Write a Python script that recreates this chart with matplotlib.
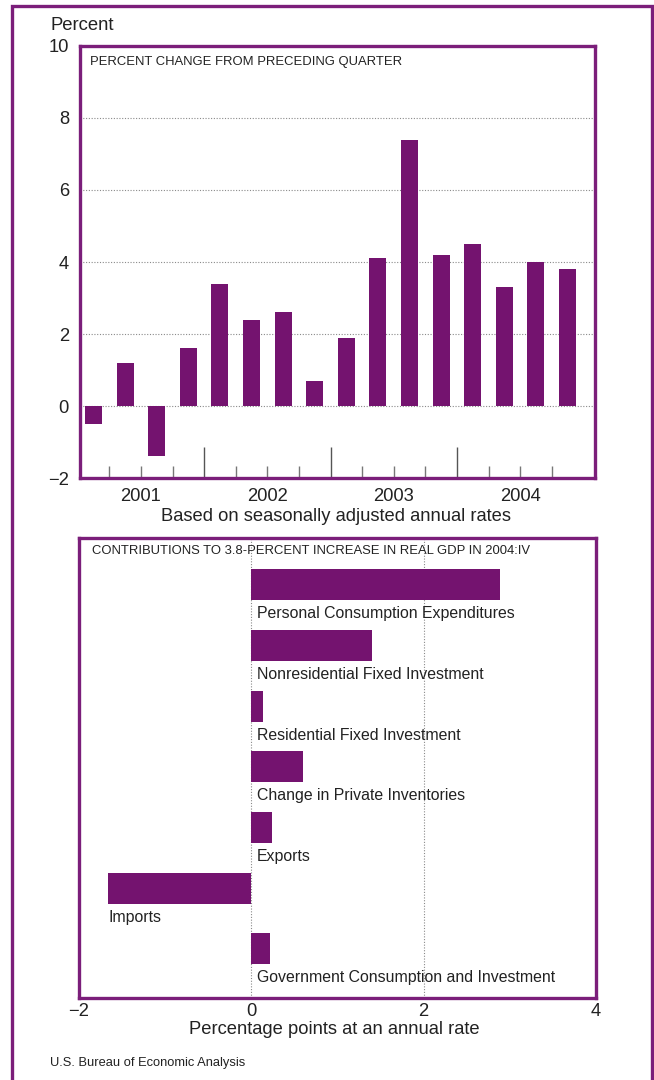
import matplotlib
matplotlib.use("Agg")
import matplotlib.pyplot as plt
from matplotlib import font_manager as fm
from matplotlib.lines import Line2D

# ---------------- data ----------------
quarters = list(range(16))  # 2001:I .. 2004:IV
gdp_change = [-0.5, 1.2, -1.4, 1.6,
              3.4, 2.4, 2.6, 0.7,
              1.9, 4.1, 7.4, 4.2,
              4.5, 3.3, 4.0, 3.8]
years = ["2001", "2002", "2003", "2004"]
top_yticks = [-2, 0, 2, 4, 6, 8, 10]

components = ["Personal Consumption Expenditures",
              "Nonresidential Fixed Investment",
              "Residential Fixed Investment",
              "Change in Private Inventories",
              "Exports",
              "Imports",
              "Government Consumption and Investment"]
contributions = [2.89, 1.40, 0.13, 0.60, 0.24, -1.66, 0.22]
bottom_xticks = [-2, 0, 2, 4]

# ---------------- style ----------------
W, H = 654, 1080
BAR = "#74136F"
FRAME = "#7B1E7A"
TXT = "#222222"
GRID = "#8a8a8a"

names = {f.name for f in fm.fontManager.ttflist}
MAIN = "Liberation Sans" if "Liberation Sans" in names else "DejaVu Sans"
NARROW = "Liberation Sans Narrow" if "Liberation Sans Narrow" in names else MAIN
plt.rcParams["font.family"] = [MAIN, "DejaVu Sans"]

fig = plt.figure(figsize=(W / 100, H / 100), dpi=100)


def fx(x):
    return x / W


def fy(y):
    return 1 - y / H


def ptext(x, y, s, **kw):
    fig.text(fx(x), fy(y), s, color=TXT, **kw)


# outer frame (open at bottom)
fig.add_artist(Line2D([fx(12), fx(12), fx(652), fx(652)],
                      [fy(1080), fy(6), fy(6), fy(1080)],
                      transform=fig.transFigure, color=FRAME, lw=2.4,
                      solid_joinstyle="miter"))

# ---------------- top chart ----------------
L, R, T, B = 80, 595, 46, 478
ax = fig.add_axes([fx(L), fy(B), (R - L) / W, (B - T) / H])
ax.bar(quarters, gdp_change, width=0.54, color=BAR, zorder=3)
ax.set_ylim(-2, 10)
ax.set_xlim(-0.43, 15.87)
for g in [0, 2, 4, 6, 8]:
    ax.axhline(g, color=GRID, lw=0.8, ls=(0, (1, 1.5)), zorder=1)
ax.set_yticks(top_yticks)
ax.set_yticklabels([str(v).replace("-", "\u2212") for v in top_yticks])
ax.tick_params(axis="y", length=0, pad=8, labelsize=13.2, labelcolor=TXT)
long_ticks = [3.5, 7.5, 11.5]
short_ticks = [i + 0.5 for i in range(15) if i + 0.5 not in long_ticks]
ax.set_xticks(long_ticks)
ax.set_xticks(short_ticks, minor=True)
ax.set_xticklabels([])
ax.tick_params(axis="x", which="major", direction="in", length=22, width=1.0,
               color="#555555")
ax.tick_params(axis="x", which="minor", direction="in", length=9, width=1.0,
               color="#777777")
for s in ax.spines.values():
    s.set_color(FRAME)
    s.set_linewidth(2.4)
xt = ax.get_xaxis_transform()
for i, yr in enumerate(years):
    ax.text(1.5 + 4 * i, -18 / (B - T), yr, transform=xt, ha="center",
            va="center", fontsize=13.2, color=TXT)

ptext(50, 26, "Percent", fontsize=13.3, ha="left", va="center")
ptext(90, 62, "PERCENT CHANGE FROM PRECEDING QUARTER", fontsize=9.4,
      ha="left", va="center", family=NARROW)
ptext(336, 517, "Based on seasonally adjusted annual rates", fontsize=13.2,
      ha="center", va="center")

# ---------------- bottom chart ----------------
L2, R2, T2, B2 = 79, 596, 538, 998
ax2 = fig.add_axes([fx(L2), fy(B2), (R2 - L2) / W, (B2 - T2) / H])
pos = list(range(len(components)))
ax2.barh(pos, contributions, height=0.51, color=BAR, zorder=3)
ax2.set_xlim(-2, 4)
ax2.set_ylim(6.81, -0.77)
for g in [0, 2]:
    ax2.axvline(g, color=GRID, lw=0.8, ls=(0, (1, 1.5)), zorder=1)
ax2.set_yticks([])
ax2.set_xticks(bottom_xticks)
ax2.set_xticklabels([str(v).replace("-", "\u2212") for v in bottom_xticks])
ax2.tick_params(axis="x", length=0, pad=3.5, labelsize=13.2, labelcolor=TXT)
for s in ax2.spines.values():
    s.set_color(FRAME)
    s.set_linewidth(2.4)
for p, name, v in zip(pos, components, contributions):
    x0 = v if v < 0 else 0.06
    ax2.text(x0, p + 0.48, name, ha="left", va="center", fontsize=11.4,
             color=TXT, zorder=4)

ptext(92, 551, "CONTRIBUTIONS TO 3.8-PERCENT INCREASE IN REAL GDP IN 2004:IV",
      fontsize=9.4, ha="left", va="center", family=NARROW)
ptext(334, 1029, "Percentage points at an annual rate", fontsize=13.2,
      ha="center", va="center")
ptext(50, 1063, "U.S. Bureau of Economic Analysis", fontsize=9.3, ha="left",
      va="center", family=NARROW)

fig.savefig("out.png", dpi=100)
